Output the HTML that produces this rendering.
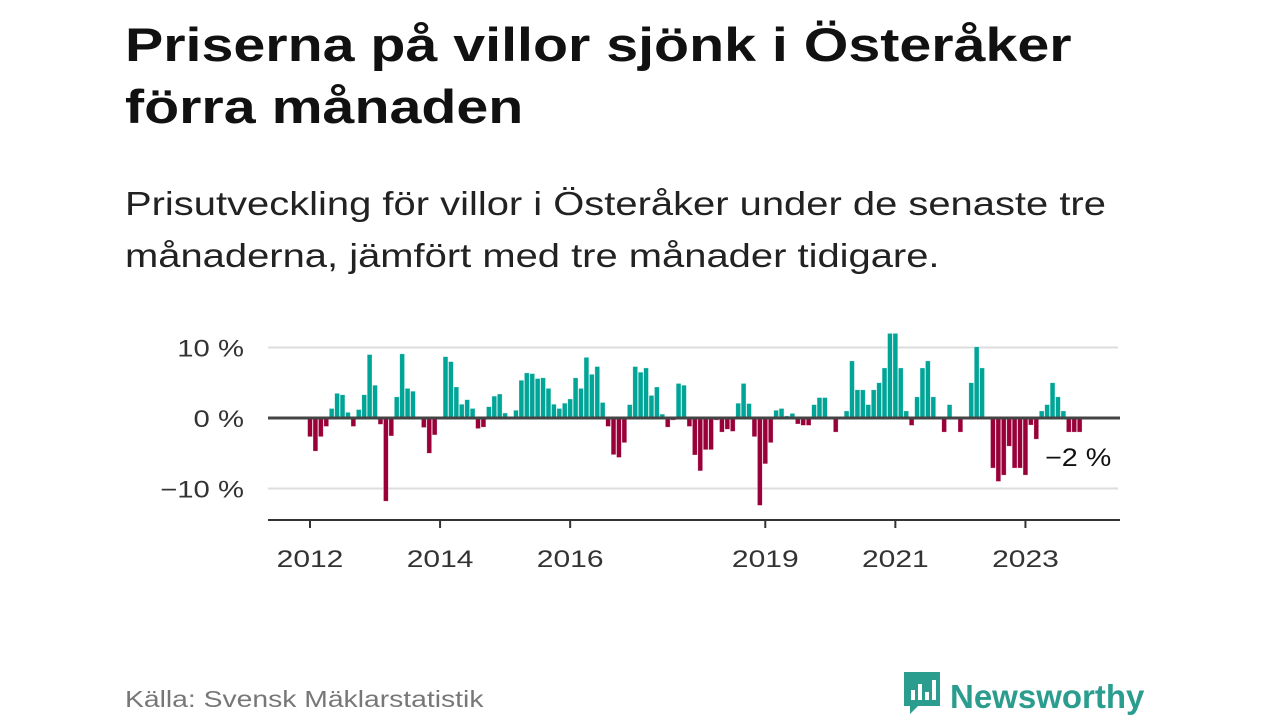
<!DOCTYPE html>
<html><head><meta charset="utf-8"><style>
body{margin:0;width:1280px;height:720px;background:#fff;font-family:"Liberation Sans",sans-serif;overflow:hidden;position:relative}
h1{position:absolute;left:125px;top:14px;margin:0;font-size:47px;line-height:62px;font-weight:bold;color:#111;transform:scaleX(1.22);transform-origin:0 0;white-space:nowrap}
.sub{position:absolute;left:125px;top:178px;margin:0;font-size:33px;line-height:52px;color:#222;transform:scaleX(1.21);transform-origin:0 0;white-space:nowrap}
.src{position:absolute;left:125px;top:686px;font-size:23px;color:#777;transform:scaleX(1.23);transform-origin:0 0;white-space:nowrap}
.logo{position:absolute;left:902px;top:670px;font-size:33px;font-weight:bold;color:#2a9d8f}
</style></head><body>
<h1>Priserna på villor sjönk i Österåker<br>förra månaden</h1>
<p class="sub">Prisutveckling för villor i Österåker under de senaste tre<br>månaderna, jämfört med tre månader tidigare.</p>
<svg id="chart" width="1280" height="720" style="position:absolute;left:0;top:0" font-family="Liberation Sans, sans-serif"></svg>
<div class="src">Källa: Svensk Mäklarstatistik</div>
<div class="logo"><svg width="40" height="46" viewBox="0 0 40 46" style="vertical-align:-8px;margin-right:8px"><path d="M2 2h36v34H16l-8 8v-8H2z" fill="#2a9d8f"/><rect x="9" y="20" width="4" height="10" fill="#fff"/><rect x="16" y="14" width="4" height="16" fill="#fff"/><rect x="23" y="22" width="4" height="8" fill="#fff"/><rect x="30" y="10" width="4" height="20" fill="#fff"/></svg>Newsworthy</div>
<script>
const values=[-2.65,-4.7,-2.65,-1.2,1.35,3.5,3.3,0.8,-1.2,1.2,3.3,9.0,4.65,-0.9,-11.8,-2.55,3.0,9.1,4.2,3.8,0,-1.35,-5.0,-2.4,0,8.7,8.0,4.4,1.95,2.6,1.35,-1.5,-1.3,1.6,3.1,3.4,0.7,0,1.1,5.35,6.4,6.3,5.6,5.7,4.2,1.95,1.35,2.1,2.7,5.7,4.2,
8.6,6.2,7.3,2.2,-1.2,-5.2,-5.6,-3.5,1.9,7.3,6.5,7.1,3.2,4.4,0.55,-1.3,-0.3,4.9,4.65,-1.2,-5.25,-7.5,-4.5,-4.5,-0.3,-2.0,-1.6,-1.9,2.1,4.9,2.05,-2.65,-12.4,-6.5,-3.5,1.1,1.35,0.3,0.65,-0.85,-1.05,-1.05,1.9,2.9,2.9,0,-2.0,0,1.0,
8.1,4.0,4.0,1.9,4.0,5.0,7.1,12.0,12.0,7.1,1.0,-1.05,3.0,7.1,8.1,3.0,0,-2.0,1.9,0,-2.0,0,5.0,10.1,7.1,0,-7.1,-9.0,-8.1,-4.0,-7.1,-7.1,-8.1,-1.0,-3.0,1.0,1.9,5.0,3.0,1.0,-2.0,-2.0,-2.0];
const startYear=2012;
const yTicks=[10,0,-10];
const yTickLabels=["10 %","0 %","\u221210 %"];
const xTickYears=[2012,2014,2016,2019,2021,2023];
const lastLabel="\u22122 %";
const NS="http://www.w3.org/2000/svg";
const svg=document.getElementById('chart');
const x=i=>310+i*5.42;
const y=v=>418-v*7.05;
function mk(t,a){const e=document.createElementNS(NS,t);for(const k in a)e.setAttribute(k,a[k]);svg.appendChild(e);return e;}
yTicks.forEach((t,k)=>{
  if(t!==0){const g=mk('line',{x1:268,x2:1118,y1:y(t),y2:y(t),stroke:'#ddd','stroke-width':2});
  
  }
  const l=mk('text',{x:0,y:0,transform:`translate(244,${y(t)+9}) scale(1.22,1)`,'text-anchor':'end','font-size':24,fill:'#333'});
  l.textContent=yTickLabels[k];
  
  
});
values.forEach((v,i)=>{
  const r=mk('rect',{x:x(i)-2.4,width:4.8,y:Math.min(y(v),y(0)),height:Math.abs(y(v)-y(0)),fill:v>=0?'#00a597':'#990038',stroke:'rgba(255,255,255,0.5)','stroke-width':0.6});
  
  
});
const z=mk('line',{x1:268,x2:1120,y1:y(0),y2:y(0),stroke:'#444','stroke-width':3});


const ax=mk('line',{x1:268,x2:1120,y1:520,y2:520,stroke:'#333','stroke-width':2});


xTickYears.forEach(yr=>{
  const xx=x((yr-startYear)*12);
  const t=mk('line',{x1:xx,x2:xx,y1:520,y2:528,stroke:'#333','stroke-width':2});
  
  
  const l=mk('text',{x:0,y:0,transform:`translate(${xx},567) scale(1.25,1)`,'text-anchor':'middle','font-size':24,fill:'#333'});
  l.textContent=yr;
  
  
});
const ll=mk('text',{x:0,y:0,transform:'translate(1045,466) scale(1.15,1)','font-size':25,fill:'#111'});
ll.textContent=lastLabel;


</script>
</body></html>
